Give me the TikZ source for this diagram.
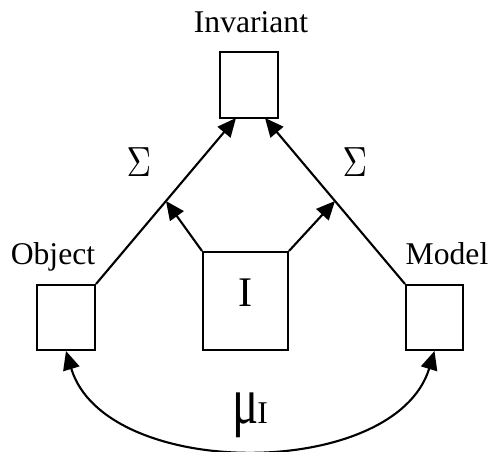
\documentclass[tikz,border=0pt]{standalone}
\usepackage{fontspec}
\setmainfont{Liberation Serif}
\usetikzlibrary{arrows.meta}

\begin{document}
\begin{tikzpicture}[
    x=0.03cm, y=-0.03cm,
    box/.style={
        draw=black,
        line width=1.7pt,
        fill=white,
        inner sep=0pt
    },
    lbl/.style={
        font=\fontsize{27}{30}\selectfont,
        anchor=base
    },
    sig/.style={
        font=\fontsize{36}{40}\selectfont,
        anchor=base
    },
    arr/.style={
        -{Triangle[length=0.56cm,width=0.5cm]},
        line width=1.8pt
    }
]
\useasboundingbox (0,0) rectangle (491,452);

%--- Хайрцагууд ---
\node[box, minimum width=1.74cm, minimum height=1.98cm] (inv) at (249,85) {};
\node[box, minimum width=1.74cm, minimum height=1.95cm] (obj) at (66,317.5) {};
\node[box, minimum width=1.71cm, minimum height=1.95cm] (mdl) at (434.5,317.5) {};
\node[box, minimum width=2.55cm, minimum height=2.94cm] (ibox) at (245.5,301) {};

%--- Шошго ---
\node[lbl] (invlbl) at (251,33) {Invariant};
\node[lbl] (objlbl) at (53,265) {Object};
\node[lbl] (mdllbl) at (447,265) {Model};
\node[sig] (ilbl) at (246,307) {I};
\node[anchor=base] (sigl) at (139,177) {\scalebox{2.9}[3.6]{$\Sigma$}};
\node[anchor=base] (sigr) at (355,177) {\scalebox{2.9}[3.6]{$\Sigma$}};
\node[anchor=base] (mulbl) at (250,424)
    {\scalebox{1.1}[1.5]{\fontsize{38}{40}\selectfont μ}\kern-1pt{\fontsize{27}{28}\selectfont I}};

%--- Үзүүрийн цэгүүд ---
\coordinate (invl) at (236,118);
\coordinate (invr) at (265,118);

%--- Σ сумнууд ---
\draw[arr] (obj.north east) -- coordinate[pos=0.5] (midl) (invl);
\draw[arr] (mdl.north west) -- coordinate[pos=0.5] (midr) (invr);

%--- I-ээс гарах сумнууд ---
\draw[arr] (ibox.north west) -- (midl);
\draw[arr] (ibox.north east) -- (midr);

%--- mu сум ---
\draw[arr, {Triangle[length=0.56cm,width=0.5cm]}-{Triangle[length=0.56cm,width=0.5cm]}]
    (obj.south) .. controls (105,481) and (395,481) .. (mdl.south);

\end{tikzpicture}
\end{document}
